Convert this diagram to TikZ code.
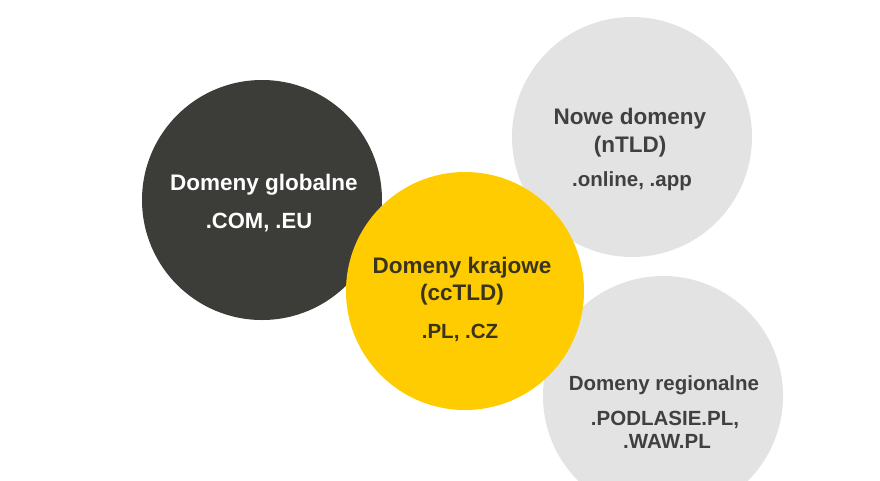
\documentclass[tikz,border=0pt]{standalone}
\usepackage{fontspec}
\setmainfont{Liberation Sans}
\usepackage{tikz}

\definecolor{darkgrey}{RGB}{60,60,56}
\definecolor{gold}{RGB}{254,204,0}
\definecolor{lightgrey}{RGB}{227,227,227}
\definecolor{textgrey}{RGB}{64,64,64}
\definecolor{textbrown}{RGB}{58,52,28}

\begin{document}
\begin{tikzpicture}[x=1pt, y=-1pt,
  bubble/.style={circle, minimum size=240pt, inner sep=0pt},
  ttl/.style={anchor=base, inner sep=0pt, font=\fontsize{22.5}{27}\selectfont\bfseries},
  sub/.style={anchor=base, inner sep=0pt, font=\fontsize{20.5}{25}\selectfont\bfseries}]

\useasboundingbox (0,0) rectangle (880,480);

% Grey circles
\node[bubble, fill=lightgrey] (nowe) at (632,137) {};
\node[bubble, fill=lightgrey] (region) at (663,396) {};

% Dark circle
\node[bubble, fill=darkgrey] (glob) at (262,200) {};

% Yellow circle
\node[bubble, fill=gold, minimum size=238pt] (kraj) at (465,291) {};

% Texts
\node[ttl, white] (globA) at (264,190) {Domeny globalne};
\node[sub, white, font=\fontsize{22}{27}\selectfont\bfseries] (globB) at (259,228) {.COM, .EU};

\node[ttl, textbrown] (krajA) at (462,273) {Domeny krajowe};
\node[ttl, textbrown] (krajB) at (462,300) {(ccTLD)};
\node[sub, textbrown] (krajC) at (460,338) {.PL, .CZ};

\node[ttl, textgrey] (noweA) at (630,124) {Nowe domeny};
\node[ttl, textgrey] (noweB) at (630,152) {(nTLD)};
\node[sub, textgrey] (noweC) at (632,186) {.online, .app};

\node[sub, textgrey] (regionA) at (664,390) {Domeny regionalne};
\node[sub, textgrey] (regionB) at (665,425) {.PODLASIE.PL,};
\node[sub, textgrey] (regionC) at (667,448) {.WAW.PL};

\end{tikzpicture}
\end{document}
